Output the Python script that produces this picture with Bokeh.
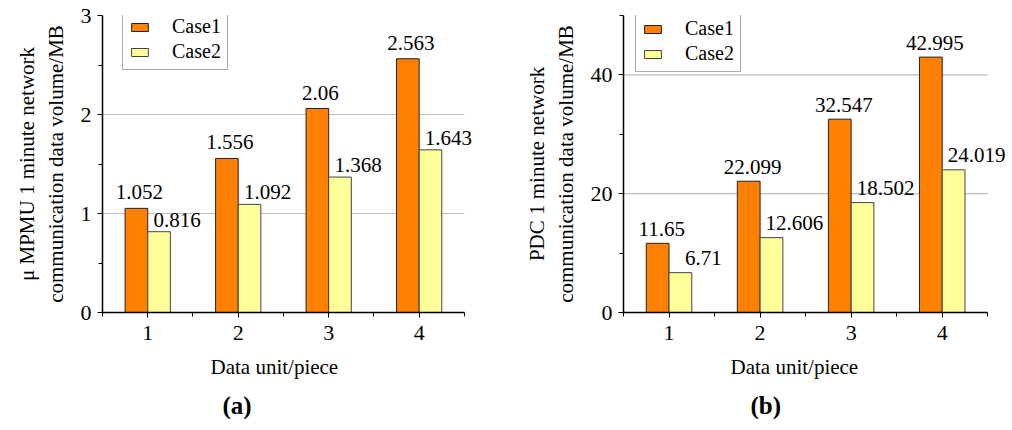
from bokeh.plotting import figure
from bokeh.layouts import row
from bokeh.models import FixedTicker, Title, ColumnDataSource, LabelSet
from bokeh.transform import dodge
from bokeh.embed import file_html
from bokeh.resources import INLINE

# ---- data ----
units = [1, 2, 3, 4]
unit_labels = ["1", "2", "3", "4"]
series_names = ["Case1", "Case2"]
mpmu_case1 = [1.052, 1.556, 2.06, 2.563]
mpmu_case2 = [0.816, 1.092, 1.368, 1.643]
pdc_case1 = [11.65, 22.099, 32.547, 42.995]
pdc_case2 = [6.71, 12.606, 18.502, 24.019]
x_title = "Data unit/piece"

FONT = "Liberation Serif"
ORANGE = "#FF8000"
YELLOW = "#FFFF99"
BAR_W = 0.25
X_START, X_END = 0.5, 4.5


def make_panel(c1, c2, ymax, yticks, yminor, ygrid, ylabel, caption,
               border_left, border_right, frame_width, x_extra, legend_xy,
               lab_off1, lab_off2, xlab_offset, cap_offset):
    src = ColumnDataSource(dict(
        x=units, c1=c1, c2=c2,
        x1=[u - BAR_W / 2 for u in units], x2=[u + BAR_W / 2 for u in units],
        t1=[str(v) for v in c1], t2=[str(v) for v in c2]))
    p = figure(frame_width=frame_width, frame_height=297,
               x_range=(X_START, X_END + x_extra), y_range=(0, ymax),
               min_border_left=border_left, min_border_right=border_right,
               min_border_top=15, min_border_bottom=0,
               output_backend="svg", toolbar_location=None, title=None)
    p.outline_line_color = None
    p.background_fill_color = "white"

    # horizontal grid lines limited to the category extent
    p.segment(x0=[X_START] * len(ygrid), x1=[X_END] * len(ygrid),
              y0=ygrid, y1=ygrid, line_color="#BDBDBD", line_width=1.2)

    p.vbar(x=dodge("x", -BAR_W / 2, range=p.x_range), top="c1", width=BAR_W,
           source=src, fill_color=ORANGE, line_color="#222222", line_width=1,
           legend_label=series_names[0])
    p.vbar(x=dodge("x", BAR_W / 2, range=p.x_range), top="c2", width=BAR_W,
           source=src, fill_color=YELLOW, line_color="#444444", line_width=1,
           legend_label=series_names[1])

    for xcol, ycol, tcol, off in (("x1", "c1", "t1", lab_off1),
                                  ("x2", "c2", "t2", lab_off2)):
        ls = LabelSet(x=xcol, y=ycol, text=tcol, source=src,
                      text_font=FONT, text_font_size="21px", text_color="black",
                      text_align="center", text_baseline="alphabetic",
                      x_offset=off[0], y_offset=off[1])
        p.add_layout(ls)

    # axes
    p.xaxis.ticker = FixedTicker(ticks=units,
                                 minor_ticks=[0.5, 1.5, 2.5, 3.5, 4.5])
    p.xaxis.bounds = (X_START, X_END)
    p.xaxis.major_label_overrides = {u: l for u, l in zip(units, unit_labels)}
    p.yaxis.ticker = FixedTicker(ticks=yticks, minor_ticks=yminor)
    for ax in (p.xaxis[0], p.yaxis[0]):
        ax.axis_line_color = "black"
        ax.axis_line_width = 1.5
        ax.major_tick_line_color = "black"
        ax.minor_tick_line_color = "black"
        ax.major_tick_in = 0
        ax.minor_tick_in = 0
        ax.major_tick_out = 5
        ax.minor_tick_out = 4
        ax.major_label_text_font = FONT
        ax.major_label_text_font_size = "22px"
        ax.major_label_text_color = "black"
        ax.axis_label_text_font = FONT
        ax.axis_label_text_font_size = "21px"
        ax.axis_label_text_font_style = "normal"
        ax.axis_label_text_color = "black"
    p.xaxis.major_label_standoff = 8
    p.yaxis.axis_label = ylabel
    p.yaxis.major_label_standoff = 6
    p.yaxis.axis_label_standoff = 10

    p.xgrid.visible = False
    p.ygrid.visible = False

    # legend
    lg = p.legend[0]
    lg.location = legend_xy
    lg.border_line_color = "#555555"
    lg.border_line_width = 1
    lg.background_fill_color = "white"
    lg.background_fill_alpha = 1
    lg.label_text_font = FONT
    lg.label_text_font_size = "20px"
    lg.label_text_color = "black"
    lg.glyph_width = 21
    lg.glyph_height = 10
    lg.label_standoff = 22
    lg.label_height = 20
    lg.spacing = 2
    lg.padding = 6
    lg.margin = 0

    # x-axis title (placed as a below-title so it can be positioned freely)
    xt = Title(text=x_title, align="left", offset=xlab_offset,
               text_font=FONT, text_font_size="21px",
               text_font_style="normal", text_color="black", standoff=20)
    p.add_layout(xt, "below")
    cap = Title(text=caption, align="left", offset=cap_offset,
                text_font=FONT, text_font_size="25px",
                text_font_style="bold", text_color="black", standoff=2)
    p.add_layout(cap, "below")
    return p


# panel (a): 90 px per unit -> extra 0.2 units = 18 px
pa = make_panel(mpmu_case1, mpmu_case2, 3, [0, 1, 2, 3], [0.5, 1.5, 2.5], [1, 2],
                "\u03bc MPMU 1 minute network\ncommunication data volume/MB",
                "(a)", 102, 18, 380, 0.2, (20, 242), (3, 9), (18, 5), 108, 120)
# panel (b): 91 px per unit -> extra 0.25 units ~ 23 px
pb = make_panel(pdc_case1, pdc_case2, 50, [0, 20, 40], [10, 30, 50], [20, 40],
                "PDC 1 minute network\ncommunication data volume/MB",
                "(b)", 123, 2, 387, 0.25, (12, 240), (4, 7), (23, 8), 107, 127)

layout = row(pa, pb, spacing=0)
open("out.html", "w").write(file_html(layout, INLINE))
